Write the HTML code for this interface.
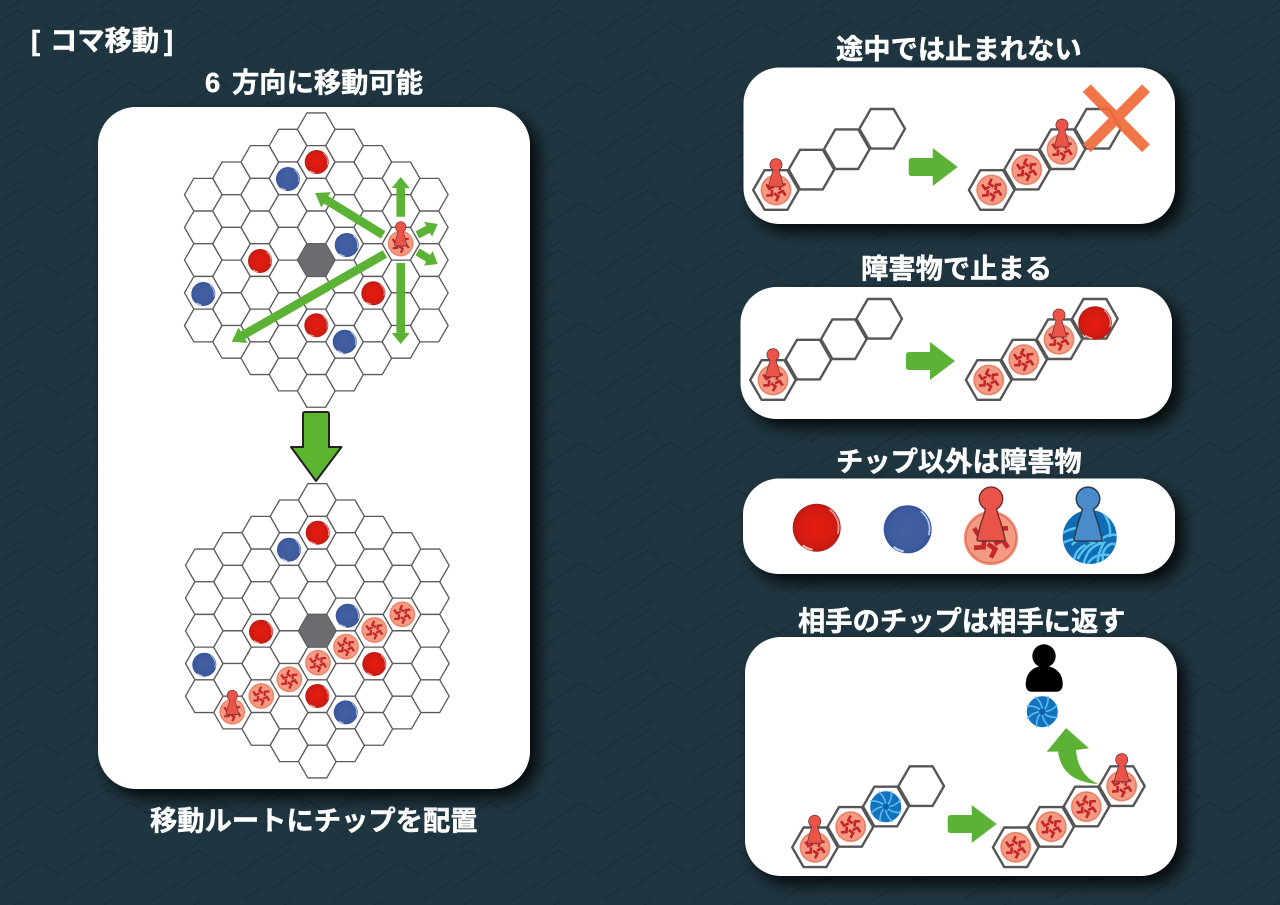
<!DOCTYPE html>
<html lang="ja"><head><meta charset="utf-8"><style>
html,body{margin:0;padding:0;background:#1f3641}
svg{display:block}
text{font-family:"Liberation Sans","Noto Sans CJK JP",sans-serif;font-weight:700;font-size:27.3px;fill:#fff;stroke:#fff;stroke-width:.45}
</style></head><body>
<svg xmlns="http://www.w3.org/2000/svg" width="1280" height="905" viewBox="0 0 1280 905">
<defs>
<pattern id="bg" width="90" height="60" patternUnits="userSpaceOnUse">
<rect width="90" height="60" fill="#1f3641"/>
<path d="M0 50L40 22L58 34L90 12M10 8L30 -6M60 62L90 42M0 22L18 10L30 18" fill="none" stroke="#1a2e38" stroke-width="1.6"/>
</pattern>
<filter id="sh" x="-10%" y="-10%" width="125%" height="130%"><feDropShadow dx="8" dy="8" stdDeviation="8" flood-color="#000" flood-opacity=".85"/></filter>
<radialGradient id="rg" cx=".5" cy=".5" r=".55"><stop offset="0" stop-color="#e81c10"/><stop offset=".75" stop-color="#d01b12"/><stop offset="1" stop-color="#a81c18"/></radialGradient>
<radialGradient id="bg2" cx=".5" cy=".5" r=".55"><stop offset="0" stop-color="#44619f"/><stop offset=".75" stop-color="#3f5ba0"/><stop offset="1" stop-color="#2f4a90"/></radialGradient>
<clipPath id="yc"><circle r="27"/></clipPath>
<path id="h" d="M-18.83 0L-9.42 -16.35L9.42 -16.35L18.83 0L9.42 16.35L-9.42 16.35Z" fill="#fff" stroke="#5a5a5a" stroke-width="1.3" stroke-linejoin="round"/>
<g id="c5"><use href="#h"/><use href="#h" y="32.7"/><use href="#h" y="65.4"/><use href="#h" y="98.1"/><use href="#h" y="130.8"/></g>
<g id="c6"><use href="#c5"/><use href="#h" y="163.5"/></g>
<g id="c7"><use href="#c6"/><use href="#h" y="196.2"/></g>
<g id="c8"><use href="#c7"/><use href="#h" y="228.9"/></g>
<g id="c9"><use href="#c8"/><use href="#h" y="261.6"/></g>
<g id="board">
<use href="#c5" x="-113" y="65.4"/><use href="#c6" x="-84.75" y="49.05"/><use href="#c7" x="-56.5" y="32.7"/><use href="#c8" x="-28.25" y="16.35"/><use href="#c9"/><use href="#c8" x="28.25" y="16.35"/><use href="#c7" x="56.5" y="32.7"/><use href="#c6" x="84.75" y="49.05"/><use href="#c5" x="113" y="65.4"/>
<path d="M-18.83 130.8L-9.42 114.45L9.42 114.45L18.83 130.8L9.42 147.15L-9.42 147.15Z" fill="#6c6c70" stroke="#5e5e62"/>
</g>
<path id="H" d="M-22.8 0L-11.4 -19.8L11.4 -19.8L22.8 0L11.4 19.8L-11.4 19.8Z" fill="#fff" stroke="#565656" stroke-width="2.4" stroke-linejoin="round"/>
<g id="row"><use href="#H"/><use href="#H" x="35.4" y="-20.4"/><use href="#H" x="70.8" y="-40.8"/><use href="#H" x="106.2" y="-61.2"/></g>
<g id="rc"><circle r="12" fill="url(#rg)"/><path d="M6.5 -9A11 11 0 0 1 10.5 3" fill="none" stroke="#f09a90" stroke-width=".9"/><path d="M-7 8.8A11 11 0 0 0 -2 11" fill="none" stroke="#f5b5ad" stroke-width="1"/></g>
<g id="bc"><circle r="12" fill="url(#bg2)"/><path d="M6.5 -9A11 11 0 0 1 10.5 3" fill="none" stroke="#b4c5e8" stroke-width=".9"/><path d="M-7 8.8A11 11 0 0 0 -2 11" fill="none" stroke="#c8d6ee" stroke-width="1"/></g>
<path id="bl" d="M2 -3.5L-2.5 -6.5L0 -11.5" fill="none" stroke="#c4242a" stroke-width="2.7"/>
<g id="tk"><circle r="16" fill="#f49a80"/><circle r="14.8" fill="none" stroke="#d86455" stroke-width=".6"/><use href="#bl"/><use href="#bl" transform="rotate(60)"/><use href="#bl" transform="rotate(120)"/><use href="#bl" transform="rotate(180)"/><use href="#bl" transform="rotate(240)"/><use href="#bl" transform="rotate(300)"/></g>
<path id="pw" d="M-5.7 -32A11.7 11.7 0 1 1 5.7 -32C6 -27 10 -20 11.5 -12L14 -2Q14 0 12 0L-12 0Q-14 0 -14 -2L-11.5 -12C-10 -20 -6 -27 -5.7 -32Z" fill="#ea5347" stroke="#6a3030" stroke-width="1.4"/>
<path id="sw" d="M3 0Q10 -1 15 -7" fill="none" stroke="#5dbdf0" stroke-width="1.6"/>
<g id="bt"><circle r="15.5" fill="#1272bd"/><use href="#sw"/><use href="#sw" transform="rotate(45)"/><use href="#sw" transform="rotate(90)"/><use href="#sw" transform="rotate(135)"/><use href="#sw" transform="rotate(180)"/><use href="#sw" transform="rotate(225)"/><use href="#sw" transform="rotate(270)"/><use href="#sw" transform="rotate(315)"/><circle r="3.2" fill="#0f5ea8"/></g>
<path id="arR" d="M0 0L-25 -19V-9H-46Q-49 -9 -49 -6V6Q-49 9 -46 9H-25V19Z" fill="#5cb234"/>
</defs>
<rect width="1280" height="905" fill="url(#bg)"/>

<text x="31" y="50">[</text><text x="50" y="50">コマ移動</text><text x="164" y="50">]</text>
<text x="205" y="92">6</text><text x="232" y="92">方向に移動可能</text>
<text x="150" y="830">移動ルートにチップを配置</text>
<text x="836" y="58.5">途中では止まれない</text>
<text x="861" y="278">障害物で止まる</text>
<text x="836" y="471">チップ以外は障害物</text>
<text x="798" y="630.5">相手のチップは相手に返す</text>

<rect x="98" y="107" width="432" height="682" rx="38" fill="#fff" filter="url(#sh)"/>
<rect x="743.500" y="67.500" width="431.500" height="156.500" rx="36" fill="#fff" filter="url(#sh)"/>
<rect x="740.500" y="287" width="431.500" height="132" rx="36" fill="#fff" filter="url(#sh)"/>
<rect x="743" y="478.500" width="432" height="95.500" rx="36" fill="#fff" filter="url(#sh)"/>
<rect x="745" y="637" width="432" height="239" rx="36" fill="#fff" filter="url(#sh)"/>

<!-- board 1 -->
<use href="#board" x="316.300" y="129.300"/>
<use href="#rc" transform="translate(316.700,162)"/>
<use href="#bc" transform="translate(288,179)"/>
<use href="#bc" transform="translate(346.700,245)"/>
<use href="#rc" transform="translate(260,261)"/>
<use href="#bc" transform="translate(203.300,294)"/>
<use href="#rc" transform="translate(373.300,293.300)"/>
<use href="#rc" transform="translate(316.300,325.300)"/>
<use href="#bc" transform="translate(344.700,341.700)"/>
<use href="#tk" transform="translate(400.700,243.500) scale(.81)"/>
<use href="#pw" transform="translate(400.700,246) scale(.45)"/>
<g fill="#5cb234">
<polygon transform="translate(400.700,177) rotate(-90)" points="0,0 -11,9 -11,4.300 -39.700,4.300 -39.700,-4.300 -11,-4.300 -11,-9"/>
<polygon transform="translate(400.700,344) rotate(90)" points="0,0 -11,9 -11,4.300 -81,4.300 -81,-4.300 -11,-4.300 -11,-9"/>
<polygon transform="translate(315,193) rotate(-148.400)" points="0,0 -13,9 -13,4.300 -80,4.300 -80,-4.300 -13,-4.300 -13,-9"/>
<polygon transform="translate(231.700,341.700) rotate(150.200)" points="0,0 -13,9 -13,4.300 -176.600,4.300 -176.600,-4.300 -13,-4.300 -13,-9"/>
<polygon transform="translate(437.700,224) rotate(-28.300)" points="0,0 -11,8.500 -11,4 -23,4 -23,-4 -11,-4 -11,-8.500"/>
<polygon transform="translate(437.700,264) rotate(31)" points="0,0 -11,8.500 -11,4 -23.500,4 -23.500,-4 -11,-4 -11,-8.500"/>
</g>
<path d="M305 412H327Q329 412 329 414V447H341.500L316 481L291 447H303V414Q303 412 305 412Z" fill="#5cb531" stroke="#222" stroke-width="2" stroke-linejoin="round"/>

<!-- board 2 -->
<use href="#board" x="317.300" y="500"/>
<use href="#rc" transform="translate(317.700,532.700)"/>
<use href="#bc" transform="translate(289,549.700)"/>
<use href="#bc" transform="translate(347.700,615.700)"/>
<use href="#rc" transform="translate(261,631.700)"/>
<use href="#bc" transform="translate(204.300,664.700)"/>
<use href="#rc" transform="translate(374.300,664)"/>
<use href="#rc" transform="translate(317.300,696)"/>
<use href="#bc" transform="translate(345.700,712.400)"/>
<use href="#tk" transform="translate(402.300,614.300) scale(.81)"/>
<use href="#tk" transform="translate(374.300,630) scale(.81)"/>
<use href="#tk" transform="translate(346,646.700) scale(.81)"/>
<use href="#tk" transform="translate(318,662.700) scale(.81)"/>
<use href="#tk" transform="translate(289.300,679.300) scale(.81)"/>
<use href="#tk" transform="translate(261.300,696) scale(.81)"/>
<use href="#tk" transform="translate(232.300,711.700) scale(.81)"/>
<use href="#pw" transform="translate(232.300,714.500) scale(.45)"/>

<!-- panel 1 -->
<use href="#row" x="776" y="190"/>
<use href="#tk" transform="translate(776,190) scale(.97)"/>
<use href="#pw" transform="translate(776,186.700) scale(.52)"/>
<use href="#arR" transform="translate(957.700,167)"/>
<use href="#row" x="991.700" y="190"/>
<use href="#tk" transform="translate(991.700,190) scale(.97)"/>
<use href="#tk" transform="translate(1026.700,169.700) scale(.97)"/>
<use href="#tk" transform="translate(1062,149.300) scale(.97)"/>
<use href="#pw" transform="translate(1062,147) scale(.52)"/>
<path d="M1086.700 88.300L1146 148.300M1146 88.300L1086.700 148.300" stroke="#ef6a38" stroke-width="11" opacity=".92" fill="none"/>

<!-- panel 2 -->
<use href="#row" x="773" y="380"/>
<use href="#tk" transform="translate(773,380) scale(.97)"/>
<use href="#pw" transform="translate(773,376.700) scale(.52)"/>
<use href="#arR" transform="translate(955,361)"/>
<use href="#row" x="988.700" y="380"/>
<use href="#tk" transform="translate(988.700,380) scale(.97)"/>
<use href="#tk" transform="translate(1023.700,359.700) scale(.97)"/>
<use href="#tk" transform="translate(1059,339.300) scale(.97)"/>
<use href="#pw" transform="translate(1059,337) scale(.52)"/>
<use href="#rc" transform="translate(1095,323) scale(1.4)"/>

<!-- panel 3 -->
<use href="#rc" transform="translate(816.700,527.700) scale(2)"/>
<use href="#bc" transform="translate(907.700,529.300) scale(2)"/>
<use href="#tk" transform="translate(991,538) scale(1.7)"/>
<use href="#pw" transform="translate(991,541)"/>
<g transform="translate(1089.700,537)"><circle r="27" fill="#0f6cb5"/><g clip-path="url(#yc)" fill="none" stroke="#57c1ee" stroke-width="2.500">
<path d="M-27 -4Q-10 -14 8 -6Q-8 -2 -18 8"/><path d="M-27 6Q-12 -2 4 6Q-6 10 -12 22"/><path d="M-6 27Q-2 8 14 6Q8 16 8 27"/><path d="M27 -2Q14 -4 8 8M27 8Q20 4 14 14Q12 20 14 27"/><path d="M-2 27Q4 16 20 18M-16 24Q-14 12 -4 8"/><path d="M14 -24Q22 -12 20 0"/></g></g>
<path transform="translate(1088,541)" d="M-5.7 -32A11.7 11.7 0 1 1 5.7 -32C6 -27 10 -20 11.5 -12L14 -2Q14 0 12 0L-12 0Q-14 0 -14 -2L-11.5 -12C-10 -20 -6 -27 -5.7 -32Z" fill="#4a8ccb" stroke="#2a3a4a" stroke-width="1.5"/>

<!-- panel 4 -->
<use href="#row" x="815" y="847.300"/>
<use href="#tk" transform="translate(815,847.300) scale(.97)"/>
<use href="#pw" transform="translate(814.700,843.300) scale(.52)"/>
<use href="#tk" transform="translate(850.700,826.700) scale(.97)"/>
<use href="#bt" x="885.700" y="806.700"/>
<use href="#arR" transform="translate(996.700,824)"/>
<use href="#row" x="1015.700" y="847.300"/>
<use href="#tk" transform="translate(1015.700,847.300) scale(.97)"/>
<use href="#tk" transform="translate(1051.300,826.700) scale(.97)"/>
<use href="#tk" transform="translate(1086.300,806.700) scale(.97)"/>
<use href="#tk" transform="translate(1121.700,786) scale(.97)"/>
<use href="#pw" transform="translate(1121.700,781.700) scale(.52)"/>
<path d="M1066 728L1089 748.300L1076 750Q1078 775 1098.300,784Q1062 782 1058 751.500L1046.700 751.700Z" fill="#5cb234"/>
<circle cx="1044" cy="656" r="11.700" fill="#000"/>
<path d="M1025.700 684C1026 672 1034 666 1044 666C1054 666 1062.700 672 1062.700 684Q1062.700 691.700 1056 691.700H1032Q1025.700 691.700 1025.700 684Z" fill="#000"/>
<use href="#bt" x="1042.300" y="711.700"/>
</svg>
</body></html>
